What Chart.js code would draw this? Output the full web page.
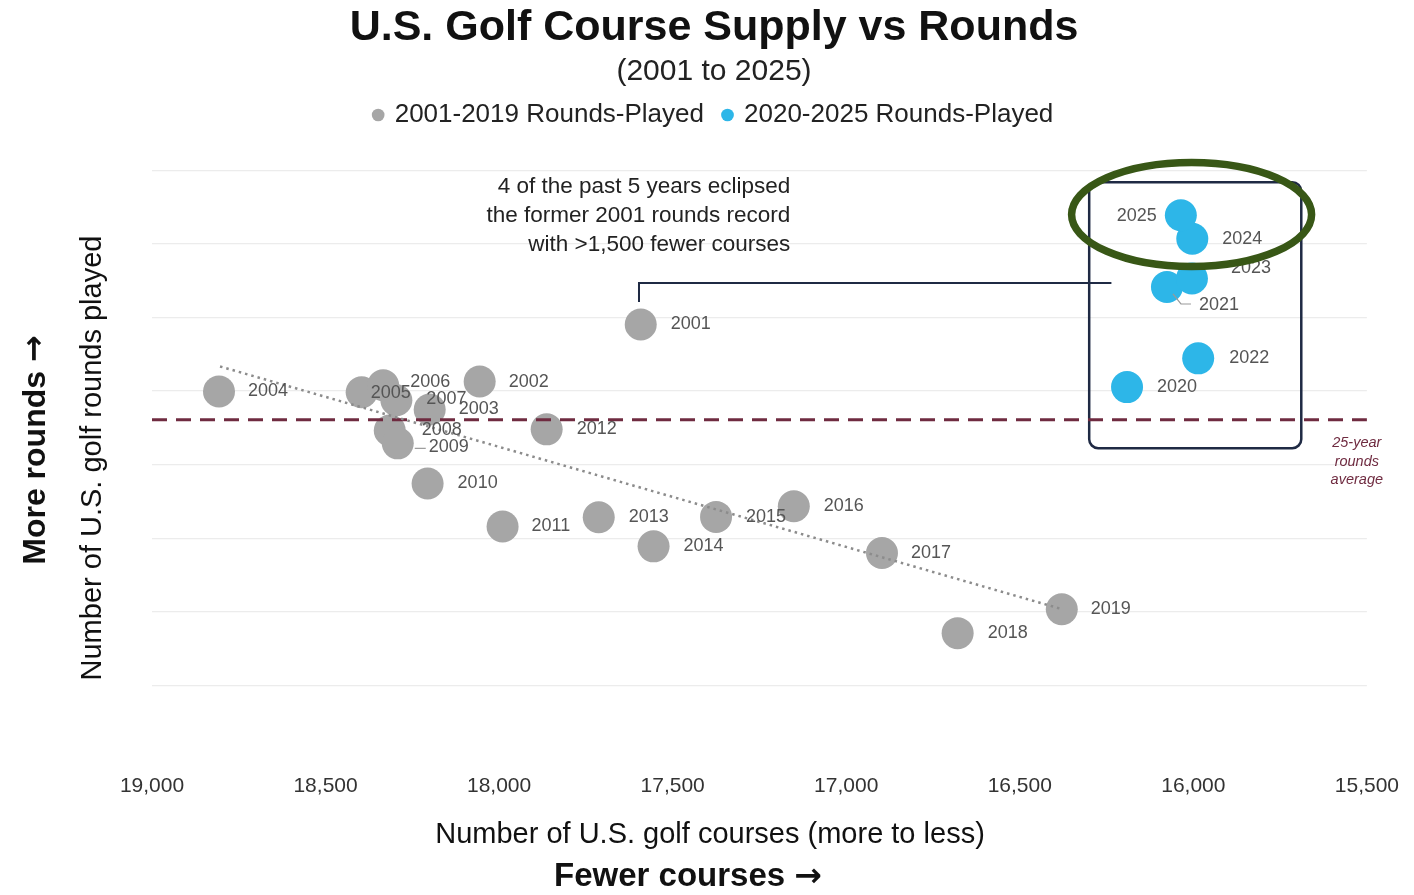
<!DOCTYPE html>
<html>
<head>
<meta charset="utf-8">
<script src="https://cdn.jsdelivr.net/npm/chart.js@4.4.1/dist/chart.umd.min.js"></script>
<style>
  html, body { margin: 0; padding: 0; background: #ffffff; }
  #wrap { width: 1414px; height: 895px; position: relative; }
</style>
</head>
<body>
<div id="wrap"><canvas id="c"></canvas></div>
<script>
// ---------- DATA (rounds in millions, courses = count) ----------
const historicYears   = [2001,2002,2003,2004,2005,2006,2007,2008,2009,2010,2011,2012,2013,2014,2015,2016,2017,2018,2019];
const historicCourses = [17592,18056,18200,18807,18396,18334,18296,18315,18292,18206,17990,17863,17713,17555,17375,17151,16897,16679,16379];
const historicRounds  = [518.1,502.6,495.0,499.9,499.7,501.6,497.5,489.3,485.8,474.9,463.2,489.6,465.7,457.8,465.8,468.7,456.0,434.2,440.7];

const recentYears   = [2020,2021,2022,2023,2024,2025];
const recentCourses = [16191,16076,15986,16004,16003,16036];
const recentRounds  = [501.1,528.3,508.9,530.6,541.4,547.8];

const trendCourses = [18804,16377];
const trendRounds  = [506.7,440.7];

const averageRounds = 492.2;
const averageCourses = [19000,15500];

const xTickValues = [19000,18500,18000,17500,17000,16500,16000,15500];
const yGridValues = [420,440,460,480,500,520,540,560];

const legendLabels = ['2001-2019 Rounds-Played','2020-2025 Rounds-Played'];
const noteLines = ['4 of the past 5 years eclipsed','the former 2001 rounds record','with >1,500 fewer courses'];
const avgLines = ['25-year','rounds','average'];

// ---------- STYLE / PLACEMENT ----------
const F = '"Liberation Sans", Arial, Helvetica, sans-serif';
const ARROWF = '"DejaVu Sans", sans-serif';
const GRAY = '#a6a6a6';
const BLUE = '#2db6e8';
const MAROON = '#6f2b40';
const NAVY = '#1f2a44';

// label offsets in pixels from point centre: [dx, dy, mode]
const labelPlace = {
  2001:[30,0], 2002:[29,0], 2003:[29,0], 2004:[29,0], 2005:[9,1], 2006:[27,-3],
  2007:[30,-1], 2008:[32,0], 2009:[31,4,'lead'], 2010:[30,0], 2011:[29,0], 2012:[30,0],
  2013:[30,0], 2014:[30,0], 2015:[30,0], 2016:[30,0], 2017:[29,0], 2018:[30,0], 2019:[29,0],
  2020:[30,0], 2021:[32,18,'hook'], 2022:[31,0], 2023:[39,-11], 2024:[30,0], 2025:[-24,1,'right']
};

// annotation geometry in data units
const boxGeom = { x0:16300, x1:15689, y0:556.8, y1:484.5, r:9 };
const bracketGeom = { x0:17597, x1:16236, yLow:524.2, yHigh:529.4 };
const noteGeom = { x:17161, y:555.6, lineGap:29 };
const avgTextGeom = { x:15529, y:485.8, lineGap:18.5 };
const ellipseGeom = { cx:16005, cy:548.0, rxPx:120, ryPx:52 };

// draws "text →" centred at (0,0) of current transform, arrow in a font with a bold arrow glyph
function drawWithArrow(ctx, text, size) {
  ctx.font = 'bold ' + size + 'px ' + F;
  const w1 = ctx.measureText(text + ' ').width;
  ctx.font = 'bold ' + size + 'px ' + ARROWF;
  const w2 = ctx.measureText('\u2192').width;
  const start = -(w1 + w2) / 2;
  ctx.textAlign = 'left';
  ctx.font = 'bold ' + size + 'px ' + F;
  ctx.fillText(text + ' ', start, 0);
  ctx.font = 'bold ' + size + 'px ' + ARROWF;
  ctx.fillText('\u2192', start + w1, 0);
}

const annotationPlugin = {
  id: 'golfAnnotations',
  beforeDatasetsDraw(chart) {
    const {ctx, scales:{x, y}} = chart;
    ctx.save();
    const bx0 = x.getPixelForValue(boxGeom.x0), bx1 = x.getPixelForValue(boxGeom.x1);
    const by0 = y.getPixelForValue(boxGeom.y0), by1 = y.getPixelForValue(boxGeom.y1);
    ctx.strokeStyle = NAVY; ctx.lineWidth = 2.5;
    ctx.beginPath();
    ctx.roundRect(bx0, by0, bx1 - bx0, by1 - by0, boxGeom.r);
    ctx.stroke();
    const kx0 = x.getPixelForValue(bracketGeom.x0), kx1 = x.getPixelForValue(bracketGeom.x1);
    const ky0 = y.getPixelForValue(bracketGeom.yLow), ky1 = y.getPixelForValue(bracketGeom.yHigh);
    ctx.lineWidth = 2;
    ctx.beginPath();
    ctx.moveTo(kx0, ky0); ctx.lineTo(kx0, ky1); ctx.lineTo(kx1, ky1);
    ctx.stroke();
    ctx.restore();
  },
  afterDatasetsDraw(chart) {
    const {ctx, scales:{x, y}} = chart;
    ctx.save();
    ctx.font = '18px ' + F;
    ctx.fillStyle = '#555';
    ctx.textBaseline = 'middle';
    const drawSet = (years, courses, rounds) => {
      years.forEach((yr, i) => {
        const px = x.getPixelForValue(courses[i]);
        const py = y.getPixelForValue(rounds[i]);
        const p = labelPlace[yr] || [30,0];
        ctx.textAlign = p[2] === 'right' ? 'right' : 'left';
        const lx = px + p[0], ly = py + p[1];
        if (p[2] === 'lead') {
          ctx.strokeStyle = '#999'; ctx.lineWidth = 1.2;
          ctx.beginPath(); ctx.moveTo(px + 17, ly + 1); ctx.lineTo(lx - 3, ly + 1); ctx.stroke();
        }
        if (p[2] === 'hook') {
          ctx.strokeStyle = '#999'; ctx.lineWidth = 1.2;
          ctx.beginPath(); ctx.moveTo(px + 6, py + 7); ctx.lineTo(px + 14, py + 17); ctx.lineTo(lx - 8, py + 17); ctx.stroke();
        }
        ctx.fillText(String(yr), lx, ly);
      });
    };
    drawSet(historicYears, historicCourses, historicRounds);
    drawSet(recentYears, recentCourses, recentRounds);

    ctx.fillStyle = '#222';
    ctx.font = '22.5px ' + F;
    ctx.textAlign = 'right';
    const nx = x.getPixelForValue(noteGeom.x), ny = y.getPixelForValue(noteGeom.y);
    noteLines.forEach((t, i) => ctx.fillText(t, nx, ny + i * noteGeom.lineGap));

    ctx.fillStyle = MAROON;
    ctx.font = 'italic 14.5px ' + F;
    ctx.textAlign = 'center';
    const ax = x.getPixelForValue(avgTextGeom.x), ay = y.getPixelForValue(avgTextGeom.y);
    avgLines.forEach((t, i) => ctx.fillText(t, ax, ay + i * avgTextGeom.lineGap));

    const ex = x.getPixelForValue(ellipseGeom.cx), ey = y.getPixelForValue(ellipseGeom.cy);
    ctx.strokeStyle = '#385716'; ctx.lineWidth = 7.5;
    ctx.beginPath();
    ctx.ellipse(ex, ey, ellipseGeom.rxPx, ellipseGeom.ryPx, 0, 0, Math.PI * 2);
    ctx.stroke();

    ctx.fillStyle = '#111';
    ctx.textAlign = 'center';
    ctx.textBaseline = 'middle';
    ctx.font = '29px ' + F;
    ctx.fillText('Number of U.S. golf courses (more to less)', 710, 835);

    ctx.save();
    ctx.translate(688, 877);
    drawWithArrow(ctx, 'Fewer courses', 33);
    ctx.restore();

    ctx.save();
    ctx.translate(93, 458);
    ctx.rotate(-Math.PI / 2);
    ctx.textAlign = 'center';
    ctx.font = '29px ' + F;
    ctx.fillText('Number of U.S. golf rounds played', 0, 0);
    ctx.restore();

    ctx.save();
    ctx.translate(36, 450);
    ctx.rotate(-Math.PI / 2);
    drawWithArrow(ctx, 'More rounds', 32);
    ctx.restore();

    ctx.restore();
  }
};

const toPoints = (xs, ys) => xs.map((v, i) => ({x: v, y: ys[i]}));

new Chart(document.getElementById('c'), {
  type: 'scatter',
  data: {
    datasets: [
      {
        label: 'trend',
        data: toPoints(trendCourses, trendRounds),
        showLine: true, borderColor: '#8c8c8c', borderWidth: 2.5, borderDash: [2.5, 4],
        pointRadius: 0, order: 0
      },
      {
        label: 'average',
        data: toPoints(averageCourses, [averageRounds, averageRounds]),
        showLine: true, borderColor: MAROON, borderWidth: 3, borderDash: [15, 9],
        pointRadius: 0, order: 0
      },
      {
        label: legendLabels[0],
        data: toPoints(historicCourses, historicRounds),
        backgroundColor: GRAY, borderWidth: 0, pointRadius: 16, pointHoverRadius: 16,
        pointStyle: 'circle', order: 2
      },
      {
        label: legendLabels[1],
        data: toPoints(recentCourses, recentRounds),
        backgroundColor: BLUE, borderWidth: 0, pointRadius: 16, pointHoverRadius: 16,
        pointStyle: 'circle', order: 1
      }
    ]
  },
  options: {
    responsive: true,
    maintainAspectRatio: false,
    animation: false,
    events: [],
    layout: { padding: { top: 0, left: 60, right: 46, bottom: 0 } },
    plugins: {
      tooltip: { enabled: false },
      title: {
        display: true, text: 'U.S. Golf Course Supply vs Rounds', color: '#111',
        font: { family: F, size: 43, weight: 'bold', lineHeight: 1.2 },
        padding: { top: 2, bottom: 0 }
      },
      subtitle: {
        display: true, text: '(2001 to 2025)', color: '#222',
        font: { family: F, size: 30, lineHeight: 0.7 },
        padding: { top: 7.4, bottom: 0 }
      },
      legend: {
        display: true, position: 'top',
        labels: {
          filter: (item) => legendLabels.includes(item.text),
          sort: (a, b) => a.datasetIndex - b.datasetIndex,
          usePointStyle: true, boxWidth: 7, boxHeight: 9, padding: 20,
          color: '#222', font: { family: F, size: 26 }
        }
      }
    },
    scales: {
      x: {
        type: 'linear', reverse: true, min: 15500, max: 19000,
        afterBuildTicks: (s) => { s.ticks = xTickValues.map(v => ({ value: v })); },
        afterFit: (s) => { s.height = 136; },
        ticks: {
          color: '#333', font: { family: F, size: 21 }, padding: 15,
          maxRotation: 0, autoSkip: false,
          callback: (v) => Number(v).toLocaleString('en-US')
        },
        grid: { display: false, drawTicks: false },
        border: { display: false }
      },
      y: {
        type: 'linear', min: 400, max: 568.8,
        afterBuildTicks: (s) => { s.ticks = yGridValues.map(v => ({ value: v })); },
        afterFit: (s) => { s.width = 92; },
        ticks: { display: false },
        grid: { color: '#ececec', lineWidth: 1.3, drawTicks: false },
        border: { display: false }
      }
    }
  },
  plugins: [annotationPlugin]
});
</script>
</body>
</html>
